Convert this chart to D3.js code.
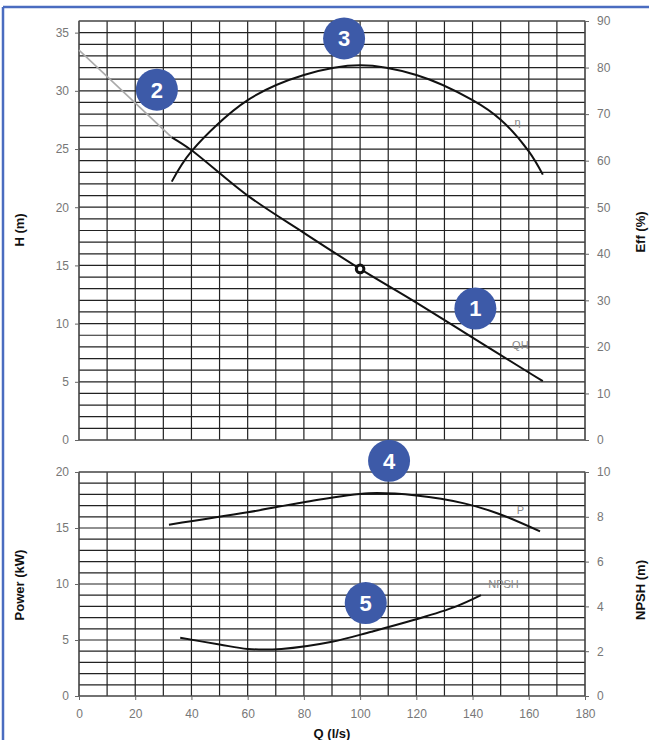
<!DOCTYPE html>
<html>
<head>
<meta charset="utf-8">
<script src="https://cdn.jsdelivr.net/npm/d3@7"></script>
<style>
  body { margin: 0; background: #fff; }
  svg { display: block; font-family: Arial, "Liberation Sans", sans-serif; }
  .tick text { fill: #777; font-size: 12px; }
  .lab { font-weight: bold; font-size: 13px; fill: #111; }
  .curve { fill: none; stroke: #111; stroke-width: 2; }
  .tag { fill: #888; font-size: 11px; }
</style>
</head>
<body>
<svg id="chart" width="649" height="740"></svg>
<script>
// Data ------------------------------------------
// QH: faint extension (0..33) then solid curve
var qhFaintQ = [0, 33];
var qhFaintH = [33.5, 26.0];
var qhQ  = [33, 40, 60, 80, 100, 120, 140, 160, 165];
var qhH  = [26.0, 24.9, 21.0, 17.8, 14.7, 11.8, 8.8, 5.8, 5.05];

var effQ = [33, 40, 60, 80, 100, 120, 140, 150, 160, 165];
var effV = [55.5, 62, 73, 78.4, 80.5, 78.4, 73, 68.8, 62, 57];

var pwrQ = [32, 60, 80, 103, 120, 137, 149, 164];
var pwrV = [15.3, 16.4, 17.3, 18.1, 17.9, 17.2, 16.3, 14.7];

var npshQ = [36, 50, 60, 72, 90, 104, 119, 134, 143];
var npshV = [2.6, 2.3, 2.1, 2.1, 2.42, 2.87, 3.39, 3.99, 4.5];

var dutyQ = 100, dutyH = 14.7;

// annotation bubbles, in data units of the panel they sit on
var bubbles = [
  { n: "1", panel: "top", q: 141, v: 11.3 },
  { n: "2", panel: "top", q: 27.7, v: 30.1 },
  { n: "3", panel: "top", q: 94.3, v: 34.5 },
  { n: "4", panel: "bot", q: 110.3, v: 21.0 },
  { n: "5", panel: "bot", q: 102, v: 8.3 }
];

var xTicks = d3.range(0, 181, 20);
var hTicks = d3.range(0, 36, 5);
var effTicks = d3.range(0, 91, 10);
var pTicks = d3.range(0, 21, 5);
var nTicks = d3.range(0, 11, 2);

// Layout ----------------------------------------
var svg = d3.select("#chart");
var left = 79, right = 585;
var topY0 = 21, topY1 = 440;
var botY0 = 472, botY1 = 696;

var x = d3.scaleLinear().domain([0, 180]).range([left, right]);
var yH = d3.scaleLinear().domain([0, 36]).range([topY1, topY0]);
var yE = d3.scaleLinear().domain([0, 90]).range([topY1, topY0]);
var yP = d3.scaleLinear().domain([0, 20]).range([botY1, botY0]);
var yN = d3.scaleLinear().domain([0, 10]).range([botY1, botY0]);

// frame
svg.append("line").attr("x1", 3).attr("x2", 649).attr("y1", 7).attr("y2", 7)
  .attr("stroke", "#4a6cc0").attr("stroke-width", 2.5);
svg.append("line").attr("x1", 3).attr("x2", 3).attr("y1", 7).attr("y2", 740)
  .attr("stroke", "#4a6cc0").attr("stroke-width", 2.5);

// Grids -----------------------------------------
function grid(yScale, step, y0, y1) {
  var g = svg.append("g");
  g.selectAll(".hl").data(d3.range(0, yScale.domain()[1] + 0.001, step))
    .enter().append("line")
    .attr("x1", left).attr("x2", right)
    .attr("y1", function(d) { return yScale(d) })
    .attr("y2", function(d) { return yScale(d) })
    .attr("stroke", "#222").attr("stroke-width", 1.2);
  g.selectAll(".vl").data(d3.range(0, 181, 10))
    .enter().append("line")
    .attr("x1", function(d) { return x(d) })
    .attr("x2", function(d) { return x(d) })
    .attr("y1", y0).attr("y2", y1)
    .attr("stroke", "#222").attr("stroke-width", 1.2);
  g.append("rect").attr("x", left).attr("y", y0)
    .attr("width", right - left).attr("height", y1 - y0)
    .attr("fill", "none").attr("stroke", "#555").attr("stroke-width", 1);
}
grid(yH, 1, topY0, topY1);
grid(yP, 1, botY0, botY1);

// Axes ------------------------------------------
function axis(gen, tx, ty) {
  var g = svg.append("g").attr("transform", "translate(" + tx + "," + ty + ")").call(gen);
  g.select(".domain").remove();
  g.selectAll(".tick line").attr("stroke", "#666");
  return g;
}
axis(d3.axisLeft(yH).tickValues(hTicks).tickSize(4).tickPadding(6), left, 0);
axis(d3.axisRight(yE).tickValues(effTicks).tickSize(4).tickPadding(8), right, 0);
axis(d3.axisLeft(yP).tickValues(pTicks).tickSize(4).tickPadding(6), left, 0);
axis(d3.axisRight(yN).tickValues(nTicks).tickSize(4).tickPadding(8), right, 0);
axis(d3.axisBottom(x).tickValues(xTicks).tickSize(4).tickPadding(9), 0, botY1);

// axis titles
function vlabel(txt, cx, cy) {
  svg.append("text").attr("class", "lab")
    .attr("transform", "translate(" + cx + "," + cy + ") rotate(-90)")
    .attr("text-anchor", "middle").text(txt);
}
vlabel("H (m)", 24, 230);
vlabel("Eff (%)", 645, 232);
vlabel("Power (kW)", 24, 585);
vlabel("NPSH (m)", 645, 590);
svg.append("text").attr("class", "lab").attr("x", x(90)).attr("y", 738)
  .attr("text-anchor", "middle").text("Q (l/s)");

// Curves ----------------------------------------
function pts(qs, vs) { return qs.map(function(q, i) { return [q, vs[i]] }) }
var line = function(ys) {
  return d3.line().curve(d3.curveCatmullRom.alpha(0.5))
    .x(function(d) { return x(d[0]) })
    .y(function(d) { return ys(d[1]) });
};

svg.append("path").attr("d", line(yH)(pts(qhFaintQ, qhFaintH)))
  .attr("fill", "none").attr("stroke", "#aaa").attr("stroke-width", 1.6);
svg.append("path").attr("class", "curve").attr("d", line(yH)(pts(qhQ, qhH)));
svg.append("path").attr("class", "curve").attr("d", line(yE)(pts(effQ, effV)));
svg.append("path").attr("class", "curve").attr("d", line(yP)(pts(pwrQ, pwrV)));
svg.append("path").attr("class", "curve").attr("d", line(yN)(pts(npshQ, npshV)));

svg.append("circle").attr("cx", x(dutyQ)).attr("cy", yH(dutyH)).attr("r", 3.8)
  .attr("fill", "#fff").attr("stroke", "#111").attr("stroke-width", 3);

// curve tags
svg.append("text").attr("class", "tag").attr("x", x(157)).attr("y", yH(8.2) + 4)
  .attr("text-anchor", "middle").text("QH");
svg.append("text").attr("class", "tag").attr("x", x(156)).attr("y", yE(68.3) + 4)
  .attr("text-anchor", "middle").text("η");
svg.append("text").attr("class", "tag").attr("x", x(157)).attr("y", yP(16.6) + 4)
  .attr("text-anchor", "middle").text("P");
svg.append("text").attr("class", "tag").attr("x", x(151)).attr("y", yN(5.0) + 4)
  .attr("text-anchor", "middle").text("NPSH");

// Bubbles ---------------------------------------
var b = svg.selectAll(".bubble").data(bubbles).enter().append("g")
  .attr("transform", function(d) {
    var yy = d.panel === "top" ? yH(d.v) : yP(d.v);
    return "translate(" + x(d.q) + "," + yy + ")";
  });
b.append("circle").attr("r", 21).attr("fill", "#3d5aa8");
b.append("text").attr("text-anchor", "middle").attr("dy", "0.36em")
  .attr("fill", "#fff").attr("font-weight", "bold").attr("font-size", "22px")
  .text(function(d) { return d.n });
</script>
</body>
</html>
